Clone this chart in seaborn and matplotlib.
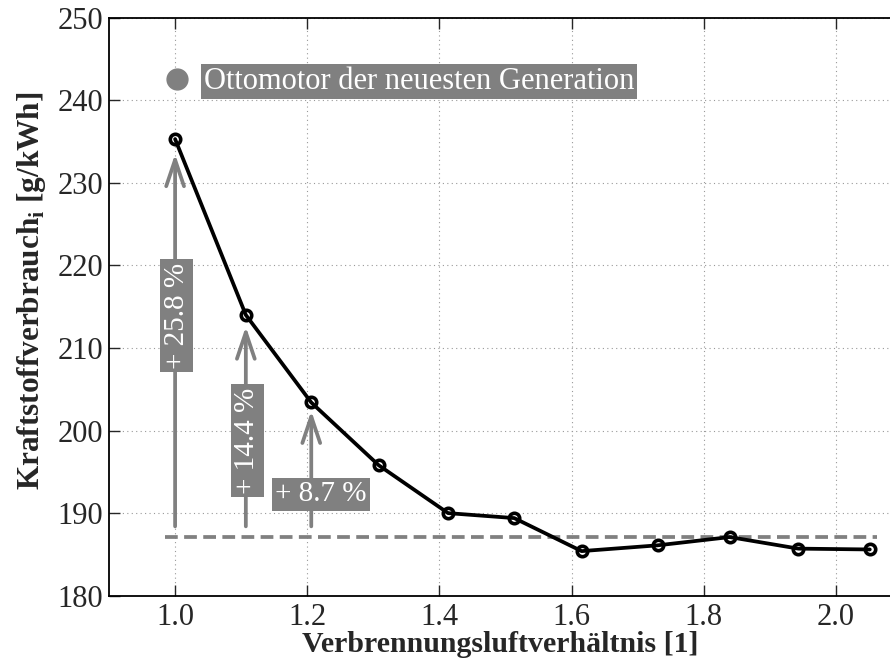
import numpy as np
import pandas as pd
import matplotlib
matplotlib.use("Agg")
import matplotlib.pyplot as plt
from matplotlib.lines import Line2D
import seaborn as sns

# ---- data ----
lam = [1.0, 1.107, 1.206, 1.308, 1.413, 1.513, 1.615, 1.730, 1.839, 1.943, 2.051]
bsfc = [235.3, 214.0, 203.4, 195.8, 190.0, 189.4, 185.4, 186.1, 187.1, 185.7, 185.6]
ref_level = 187.1
ref_x = [0.985, 2.062]
arrow_x = [1.0, 1.107, 1.206]
arrow_base = 188.4
arrow_tip = [233.5, 212.6, 202.4]
arrow_labels = ["+ 25.8 %", "+ 14.4 %", "+ 8.7 %"]
label_pos = [(1.0026, 213.9), (1.109, 198.8), (1.2207, 192.3)]
label_rot = [90, 90, 0]
legend_label = "Ottomotor der neuesten Generation"
xticks = [1.0, 1.2, 1.4, 1.6, 1.8, 2.0]
yticks = [180, 190, 200, 210, 220, 230, 240, 250]

sns.set_style("ticks")
plt.rcParams["font.family"] = ["Liberation Serif", "DejaVu Serif"]
plt.rcParams["mathtext.fontset"] = "custom"
plt.rcParams["mathtext.rm"] = "Liberation Serif"
plt.rcParams["mathtext.bf"] = "Liberation Serif:bold"

GRAY = "#808080"
W, H = 890, 663
fig = plt.figure(figsize=(W / 100, H / 100), dpi=100)
ax = fig.add_axes([109 / W, (H - 595.7) / H, (W - 109) / W, (595.7 - 17.7) / H])

df = pd.DataFrame({"lam": lam, "bsfc": bsfc})
ref_df = pd.DataFrame({"x": ref_x, "y": [ref_level] * len(ref_x)})

sns.lineplot(data=ref_df, x="x", y="y", ax=ax, color=GRAY, lw=2.7,
             linestyle=(0, (3.4, 1.7)), zorder=2)
sns.lineplot(data=df, x="lam", y="bsfc", ax=ax, color="black", lw=2.7,
             marker="o", markersize=7.5, markerfacecolor="none",
             markeredgecolor="black", markeredgewidth=2.6, zorder=4)

for xa, yt in zip(arrow_x, arrow_tip):
    ax.annotate("", xy=(xa, yt), xytext=(xa, arrow_base),
                arrowprops=dict(arrowstyle="->,head_length=0.95,head_width=0.32",
                                color=GRAY, lw=2.7, mutation_scale=20,
                                shrinkA=0, shrinkB=0), zorder=3)

for (xl, yl), txt, rot in zip(label_pos, arrow_labels, label_rot):
    ax.text(xl, yl, txt, rotation=rot, ha="center", va="center",
            color="white", fontsize=21, zorder=5, rotation_mode="anchor",
            bbox=dict(facecolor=GRAY, edgecolor="none", pad=2.5))

ax.set_xlim(0.9, 0.9 + 781 / 661)
ax.set_ylim(180, 250)
ax.set_xticks(xticks)
ax.set_xticklabels([f"{v:.1f}" for v in xticks])
ax.set_yticks(yticks)
ax.grid(True, linestyle=(0, (1, 3)), color="#999999", lw=0.8)
ax.tick_params(direction="in", length=8, width=1.0, labelsize=22,
               top=True, right=False)
ax.tick_params(axis="x", pad=5)
ax.tick_params(axis="y", pad=4)
for s in ["left", "bottom", "top"]:
    ax.spines[s].set_linewidth(1.3)
    ax.spines[s].set_color("black")
ax.spines["right"].set_visible(False)

ax.set_xlabel("Verbrennungsluftverhältnis [1]", fontsize=21.5, fontweight="bold",
              va="center")
ax.xaxis.set_label_coords((500 - 109) / 781, -(645 - 595.7) / 578)
ax.set_ylabel(r"Kraftstoffverbrauch$_\mathbf{i}$ [g/kWh]", fontsize=22.5,
              fontweight="bold", va="center")
ax.yaxis.set_label_coords((32 - 109) / 781, 1 - (291 - 17.7) / 578)

handle = Line2D([], [], marker="o", color=GRAY, ls="none", markersize=15)
leg = ax.legend(handles=[handle], labels=[legend_label], loc="center left",
                bbox_to_anchor=((162.8 - 109) / 781, 1 - (81.7 - 17.7) / 578),
                frameon=False, fontsize=22, handlelength=0.9, handletextpad=0.45,
                borderpad=0, borderaxespad=0)
for t in leg.get_texts():
    t.set_color("white")
    t.set_bbox(dict(facecolor=GRAY, edgecolor="none", pad=2.0))

fig.savefig("out.png", dpi=100)
